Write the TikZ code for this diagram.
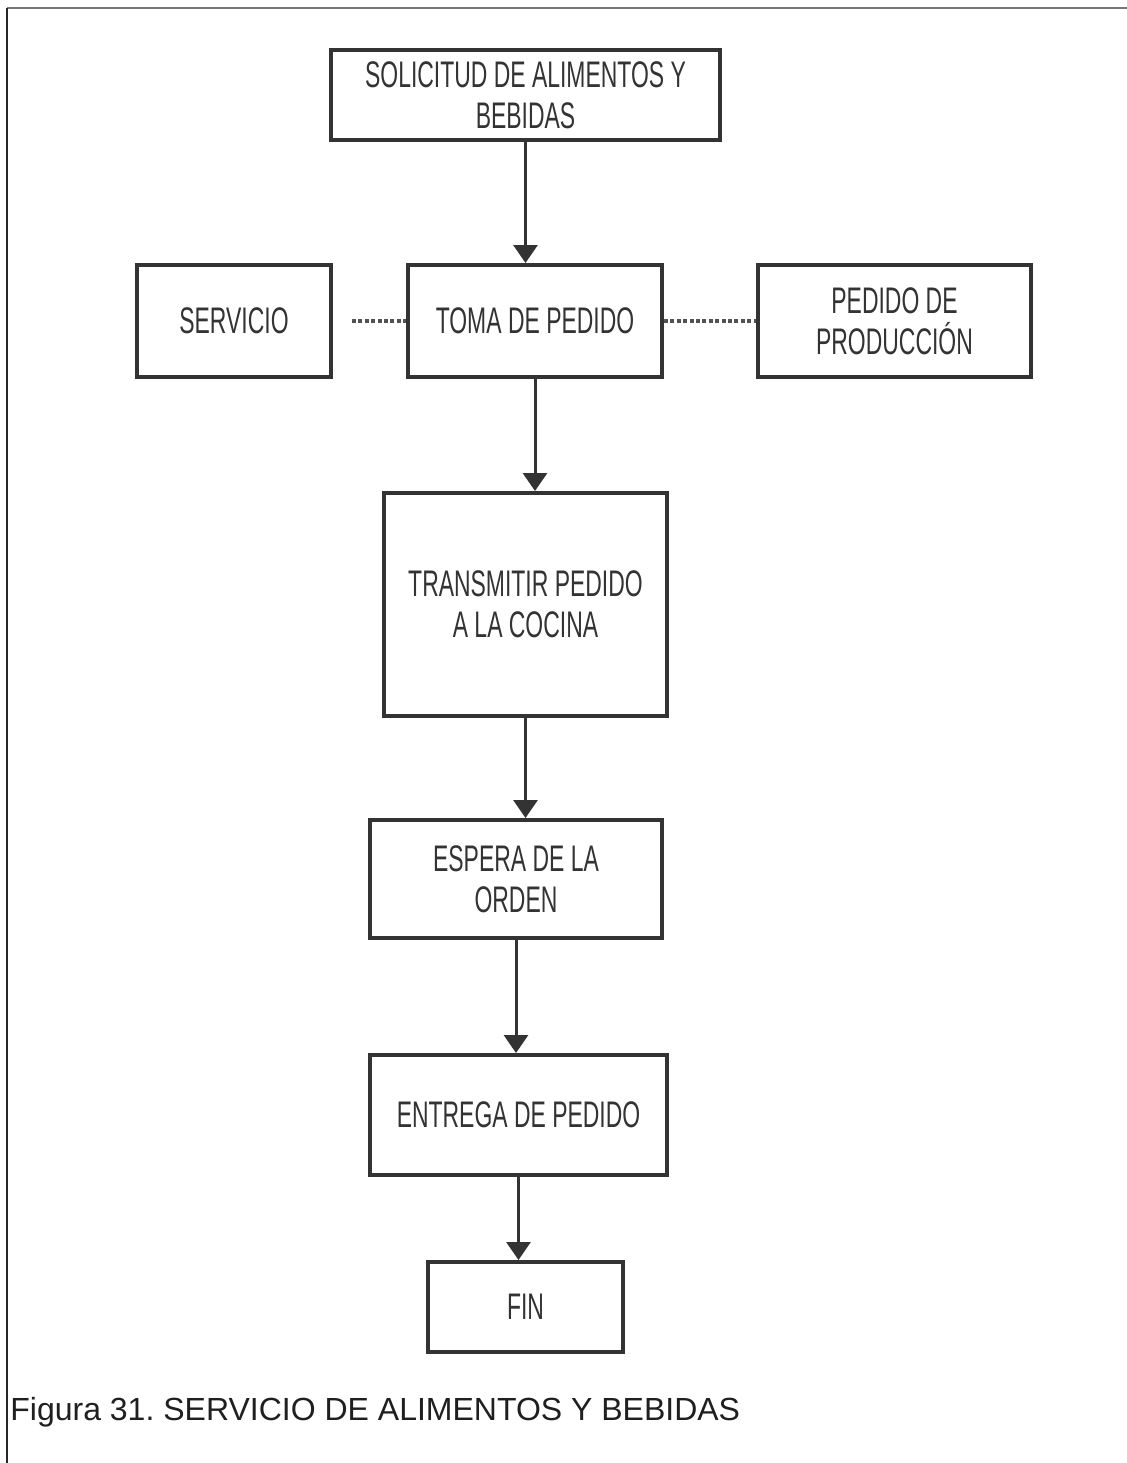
\documentclass[tikz,border=0pt]{standalone}
\usepackage{fontspec}
\setmainfont{Liberation Sans}
\newfontfamily\narrowfont[FakeStretch=0.62]{Liberation Sans}
\usetikzlibrary{arrows.meta}
\definecolor{ink}{HTML}{333333}
\definecolor{frameline}{HTML}{777777}
\frenchspacing
\begin{document}
\begin{tikzpicture}[x=0.5pt,y=-0.5pt,
  stepbox/.style={draw=ink, line width=2pt, fill=white, inner sep=0pt,
    align=center, text=ink,
    font=\narrowfont\fontsize{18.5pt}{20.5pt}\selectfont},
  flow/.style={draw=ink, line width=1.5pt,
    -{Triangle[width=12pt,length=9pt]}},
  dotline/.style={draw=ink!85, line width=2pt, dash pattern=on 2pt off 1.2pt}]
\useasboundingbox (0,0) rectangle (1127,1463);
% page frame (top and left edges only)
\draw[frameline, line width=1pt] (7,8) -- (1127,8);
\draw[black!85, line width=1pt] (7,8) -- (7,1463);

% process steps
\node[stepbox, minimum width=194.5pt, minimum height=45pt] (sol) at (525.5,95)
  {SOLICITUD DE ALIMENTOS Y\\BEBIDAS};
\node[stepbox, minimum width=97pt, minimum height=56pt] (serv) at (234,321)
  {SERVICIO};
\node[stepbox, minimum width=127pt, minimum height=56pt] (toma) at (535,321)
  {TOMA DE PEDIDO};
\node[stepbox, minimum width=136.5pt, minimum height=56pt] (prod) at (894.5,321)
  {PEDIDO DE\\PRODUCCIÓN};
\node[stepbox, minimum width=141.5pt, minimum height=111.5pt] (trans) at (525.5,604.5)
  {TRANSMITIR PEDIDO\\A LA COCINA};
\node[stepbox, minimum width=146pt, minimum height=59pt] (espera) at (516,879)
  {ESPERA DE LA\\ORDEN};
\node[stepbox, minimum width=148.5pt, minimum height=60pt] (entrega) at (518.5,1115)
  {ENTREGA DE PEDIDO};
\node[stepbox, minimum width=97.5pt, minimum height=45pt] (fin) at (525.5,1307)
  {FIN};

% main flow
\draw[flow] (sol.south) -- (sol.south |- toma.north);
\draw[flow] (toma.south) -- (toma.south |- trans.north);
\draw[flow] (trans.south) -- (trans.south |- espera.north);
\draw[flow] (espera.south) -- (espera.south |- entrega.north);
\draw[flow] (entrega.south) -- (entrega.south |- fin.north);

% side links
\coordinate (servend) at ([xshift=9.5pt]serv.east);
\draw[dotline] (servend) -- (toma.west);
\draw[dotline] (toma.east) -- (prod.west);

% caption
\node[anchor=base west, inner sep=0pt, text=black!88,
  font=\fontsize{16pt}{19pt}\selectfont] (cap) at (10,1420)
  {Figura 31. SERVICIO DE ALIMENTOS Y BEBIDAS};
\end{tikzpicture}
\end{document}
